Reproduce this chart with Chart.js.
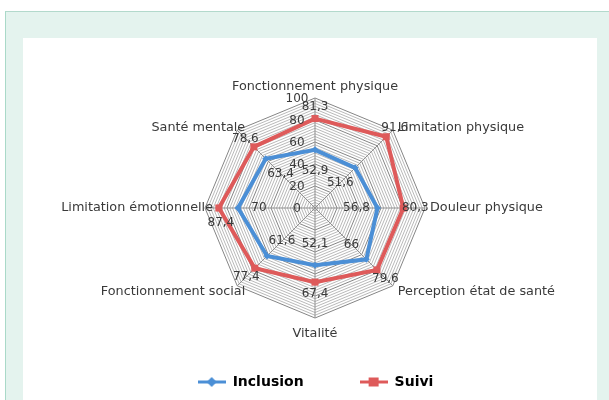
<!DOCTYPE html>
<html>
<head>
<meta charset="utf-8">
<script src="https://cdn.jsdelivr.net/npm/chart.js@4.4.1/dist/chart.umd.min.js"></script>
<style>
  html, body { margin: 0; padding: 0; background: #fff; }
  body { width: 609px; height: 400px; position: relative; overflow: hidden; }
  .frame { position: absolute; left: 5px; top: 11px; width: 604px; height: 389px;
           background: #e4f3ee; border-left: 1px solid #a9d9c8; border-top: 1px solid #b3d9cc; }
  .panel { position: absolute; left: 23px; top: 38px; width: 574px; height: 362px; background: #fff; }
  #radar { position: absolute; left: 0; top: 0; }
</style>
</head>
<body>
<div class="frame"></div>
<div class="panel"></div>
<canvas id="radar" width="609" height="400"></canvas>
<script>
const categories = ['Fonctionnement physique', 'Limitation physique', 'Douleur physique',
  'Perception état de santé', 'Vitalité', 'Fonctionnement social',
  'Limitation émotionnelle', 'Santé mentale'];
const inclusion = [52.9, 51.6, 56.8, 66, 52.1, 61.6, 70, 63.4];
const suivi = [81.3, 91.6, 80.3, 79.6, 67.4, 77.4, 87.4, 78.6];
const tickLabels = [0, 20, 40, 60, 80, 100];

const blue = '#4b8fd6';
const red = '#de5a5a';
const nameFont = '12.8px "DejaVu Sans"';
const valueFont = '12px "DejaVu Sans"';

// legend marker: a short line with the series marker on it
function legendMarker(color, shape) {
  const c = document.createElement('canvas');
  c.width = 28; c.height = 12;
  const g = c.getContext('2d');
  g.strokeStyle = color;
  g.lineWidth = 3;
  g.beginPath(); g.moveTo(0, 6); g.lineTo(28, 6); g.stroke();
  g.fillStyle = color;
  g.beginPath();
  if (shape === 'diamond') {
    g.moveTo(14, 1); g.lineTo(19, 6); g.lineTo(14, 11); g.lineTo(9, 6);
  } else {
    g.rect(9, 1.5, 10, 9);
  }
  g.fill();
  return c;
}

const fmt = v => String(v).replace('.', ',');

// tick labels, category names and value labels, placed with the radial scale
const radarText = {
  id: 'radarText',
  afterDatasetsDraw(chart) {
    const r = chart.scales.r;
    const ctx = chart.ctx;
    const xc = r.xCenter, yc = r.yCenter;
    ctx.save();
    ctx.fillStyle = '#3a3a3a';
    ctx.textBaseline = 'middle';

    ctx.font = valueFont;
    ctx.textAlign = 'center';
    tickLabels.forEach(v => {
      ctx.fillText(String(v), xc - 18, yc - r.getDistanceFromCenterForValue(v) + 1);
    });

    ctx.save();
    ctx.font = nameFont;
    ctx.beginPath();
    ctx.rect(0, 0, 556, 400);
    ctx.clip();
    categories.forEach((name, i) => {
      const p = r.getPointPosition(i, r.drawingArea);
      const dx = Math.cos(p.angle), dy = Math.sin(p.angle);
      let x = p.x, y = p.y;
      if (Math.abs(dx) < 0.1) {
        ctx.textAlign = 'center';
        y += dy < 0 ? -11 : 16;
      } else {
        ctx.textAlign = dx > 0 ? 'left' : 'right';
        x += dx > 0 ? 5 : 8;
        y += dy > 0.1 ? 6 : (dy < -0.1 ? -3 : 0);
      }
      ctx.fillText(name, x, y);
    });
    ctx.restore();

    ctx.font = valueFont;
    ctx.textAlign = 'center';
    chart.data.datasets.forEach((ds, di) => {
      const meta = chart.getDatasetMeta(di);
      meta.data.forEach((pt, i) => {
        const d = Math.hypot(pt.x - xc, pt.y - yc) || 1;
        const ux = (pt.x - xc) / d, uy = (pt.y - yc) / d;
        let x, y;
        if (di === 0) {
          x = pt.x - ux * 21; y = pt.y - uy * 21;
        } else if (ux < -0.9) {
          x = pt.x + 2; y = pt.y + 15;
        } else {
          x = pt.x + ux * 12; y = pt.y + uy * 12;
        }
        ctx.fillText(fmt(ds.data[i]), x, y);
      });
    });
    ctx.restore();
  }
};

const chart = new Chart(document.getElementById('radar'), {
  type: 'radar',
  data: {
    labels: categories,
    datasets: [{
      label: 'Inclusion',
      data: inclusion,
      borderColor: blue,
      backgroundColor: blue,
      borderWidth: 4,
      pointStyle: 'rectRot',
      pointRadius: 3.5,
      pointBorderWidth: 0,
      fill: false
    }, {
      label: 'Suivi',
      data: suivi,
      borderColor: red,
      backgroundColor: red,
      borderWidth: 4,
      pointStyle: 'rect',
      pointRadius: 5,
      pointBorderWidth: 0,
      fill: false
    }]
  },
  options: {
    responsive: false,
    animation: false,
    layout: { padding: { left: 22, right: 0, top: 98, bottom: 1 } },
    scales: {
      r: {
        min: 0,
        max: 100,
        ticks: { stepSize: 2.5, display: false },
        pointLabels: { display: false },
        angleLines: { color: '#8f8f8f', lineWidth: 1 },
        grid: {
          color: ctx => (ctx.tick.value % 20 === 0 ? '#858585' : '#b9b9b9'),
          lineWidth: 1
        }
      }
    },
    plugins: {
      tooltip: { enabled: false },
      legend: {
        position: 'bottom',
        labels: {
          usePointStyle: true,
          pointStyleWidth: 28,
          padding: 56,
          color: '#1a1a1a',
          font: { family: 'DejaVu Sans', size: 14, weight: 'bold' },
          generateLabels: chart => chart.data.datasets.map((ds, i) => ({
            text: ds.label,
            pointStyle: legendMarker(ds.borderColor, i === 0 ? 'diamond' : 'square'),
            fillStyle: ds.borderColor,
            strokeStyle: ds.borderColor,
            lineWidth: 0,
            datasetIndex: i
          }))
        }
      }
    }
  },
  plugins: [radarText]
});
</script>
</body>
</html>
